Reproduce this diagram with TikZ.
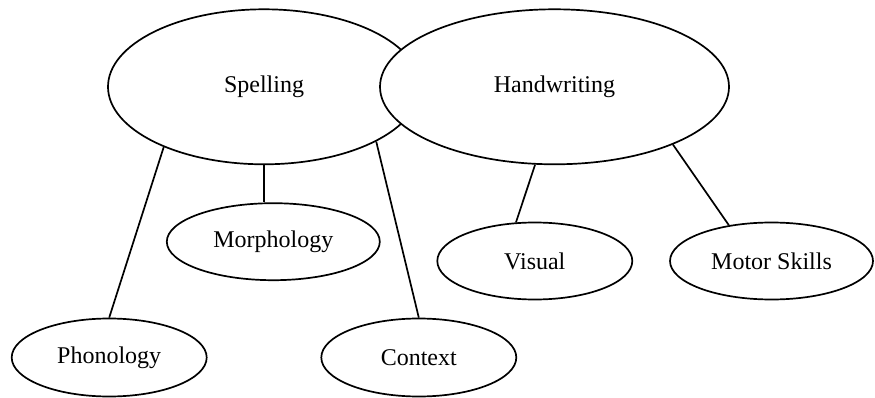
\documentclass[tikz,border=0pt]{standalone}
\usepackage{fontspec}
\setmainfont{Liberation Serif}
\usetikzlibrary{shapes.geometric}
\begin{document}
\begin{tikzpicture}[x=1pt,y=-1pt,
  ell/.style={ellipse,draw,line width=1.7pt,inner sep=0pt,fill=white,font=\fontsize{24}{28}\selectfont},
  conn/.style={line width=1.7pt}]
\useasboundingbox (0,0) rectangle (875,398);
\node[ell,minimum width=312pt,minimum height=155pt] (sp) at (264,86.8) {Spelling};
\node[ell,minimum width=349pt,minimum height=155pt] (hw) at (554.5,86.8) {Handwriting};
\node[ell,minimum width=213pt,minimum height=77pt] (mo) at (273.3,241.7) {Morphology};
\node[ell,minimum width=195pt,minimum height=78pt] (ph) at (109.2,357.5) {Phonology};
\node[ell,minimum width=195pt,minimum height=78pt] (co) at (418.8,357.5) {Context};
\node[ell,minimum width=195pt,minimum height=77pt] (vi) at (534.8,261) {Visual};
\node[ell,minimum width=203pt,minimum height=77pt] (ms) at (771.5,261) {Motor Skills};
\draw[conn] (sp.-149.3) -- (ph.90);
\draw[conn] (sp.south) -- (sp.south |- mo.north);
\draw[conn] (sp.-26.4) -- (co.90);
\draw[conn] (hw.-104.1) -- (vi.116);
\draw[conn] (hw.-26.5) -- (ms.140);
\end{tikzpicture}
\end{document}
